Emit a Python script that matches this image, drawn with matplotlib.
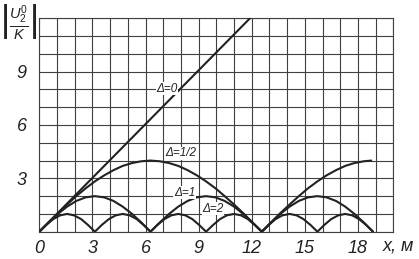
import matplotlib
matplotlib.use("Agg")
import matplotlib.pyplot as plt

plt.rcParams["mathtext.fontset"] = "custom"
plt.rcParams["mathtext.it"] = "Liberation Sans:italic"
plt.rcParams["mathtext.rm"] = "Liberation Sans"

# values
x_d0 = [0, 12.0]
y_d0 = [0, 12.1]

x_d12 = [0, 0.52, 1.05, 1.57, 2.09, 2.62, 3.14, 3.67, 4.19, 4.71, 5.24, 5.76, 6.28,
         6.81, 7.33, 7.85, 8.38, 8.90, 9.42, 9.95, 10.47, 11.00, 11.52, 12.04, 12.57,
         13.09, 13.61, 14.14, 14.66, 15.18, 15.71, 16.23, 16.76, 17.28, 17.80, 18.33, 18.75]
y_d12 = [0, 0.52, 1.04, 1.53, 2.0, 2.44, 2.83, 3.17, 3.46, 3.70, 3.86, 3.96, 4.0,
         3.96, 3.86, 3.70, 3.46, 3.17, 2.83, 2.44, 2.0, 1.53, 1.04, 0.52, 0,
         0.52, 1.04, 1.53, 2.0, 2.44, 2.83, 3.17, 3.46, 3.70, 3.86, 3.96, 4.0]

x_d1 = [0, 0.52, 1.05, 1.57, 2.09, 2.62, 3.14, 3.67, 4.19, 4.71, 5.24, 5.76, 6.28,
        6.81, 7.33, 7.85, 8.38, 8.90, 9.42, 9.95, 10.47, 11.00, 11.52, 12.04, 12.57,
        13.09, 13.61, 14.14, 14.66, 15.18, 15.71, 16.23, 16.76, 17.28, 17.80, 18.33, 18.85]
y_d1 = [0, 0.52, 1.0, 1.41, 1.73, 1.93, 2.0, 1.93, 1.73, 1.41, 1.0, 0.52, 0,
        0.52, 1.0, 1.41, 1.73, 1.93, 2.0, 1.93, 1.73, 1.41, 1.0, 0.52, 0,
        0.52, 1.0, 1.41, 1.73, 1.93, 2.0, 1.93, 1.73, 1.41, 1.0, 0.52, 0]

x_d2 = [0, 0.39, 0.79, 1.18, 1.57, 1.96, 2.36, 2.75, 3.14,
        3.53, 3.93, 4.32, 4.71, 5.10, 5.50, 5.89, 6.28,
        6.67, 7.07, 7.46, 7.85, 8.25, 8.64, 9.03, 9.42,
        9.82, 10.21, 10.60, 11.00, 11.39, 11.78, 12.17, 12.57,
        12.96, 13.35, 13.74, 14.14, 14.53, 14.92, 15.32, 15.71,
        16.10, 16.49, 16.89, 17.28, 17.67, 18.06, 18.46, 18.85]
y_d2 = [0, 0.38, 0.71, 0.92, 1.0, 0.92, 0.71, 0.38, 0,
        0.38, 0.71, 0.92, 1.0, 0.92, 0.71, 0.38, 0,
        0.38, 0.71, 0.92, 1.0, 0.92, 0.71, 0.38, 0,
        0.38, 0.71, 0.92, 1.0, 0.92, 0.71, 0.38, 0,
        0.38, 0.71, 0.92, 1.0, 0.92, 0.71, 0.38, 0,
        0.38, 0.71, 0.92, 1.0, 0.92, 0.71, 0.38, 0]

x_ticks = [0, 3, 6, 9, 12, 15, 18]
y_ticks = [3, 6, 9]

labels = ["Δ=0", "Δ=1/2", "Δ=1", "Δ=2"]
label_pos = [(7.2, 8.05), (8.0, 4.4), (8.2, 2.2), (9.8, 1.3)]

font = "Liberation Sans"
ink = "#222222"

fig = plt.figure(figsize=(4.19, 2.59), dpi=100)
ax = fig.add_axes([0.0938, 0.1054, 0.845, 0.824])

for xs, ys in [(x_d0, y_d0), (x_d12, y_d12), (x_d1, y_d1), (x_d2, y_d2)]:
    ax.plot(xs, ys, color=ink, lw=1.5, solid_capstyle="round", zorder=3)

for t, (tx, ty) in zip(labels, label_pos):
    ax.text(tx, ty, t, fontsize=8.5, fontstyle="italic", family=font, color=ink,
            ha="center", va="center", zorder=4,
            bbox=dict(facecolor="white", edgecolor="none", pad=0.3))

ax.set_xlim(0, 20)
ax.set_ylim(0, 12)
ax.set_xticks(range(0, 21), minor=True)
ax.set_yticks(range(0, 13), minor=True)
ax.set_xticks(x_ticks)
ax.set_yticks(y_ticks)
ax.set_xticklabels([str(v) for v in x_ticks], fontstyle="italic", family=font, fontsize=13)
ax.set_yticklabels([str(v) for v in y_ticks], fontstyle="italic", family=font, fontsize=13)
ax.tick_params(which="both", length=0, colors=ink)
ax.tick_params(axis="x", pad=6)
ax.tick_params(axis="y", pad=9)
ax.grid(which="both", color="#404040", lw=0.8)
for s in ax.spines.values():
    s.set_color("#404040")
    s.set_linewidth(0.8)

fig.text(383 / 419, 1 - 246 / 259, "x, м", fontstyle="italic", family=font,
         fontsize=13, color=ink, ha="left", va="center")
fig.text(19 / 419, 1 - 22 / 259, r"$\left|\frac{U_2^0}{K}\right|$", fontsize=15,
         color=ink, ha="center", va="center")

fig.savefig("out.png", dpi=100, facecolor="white")
